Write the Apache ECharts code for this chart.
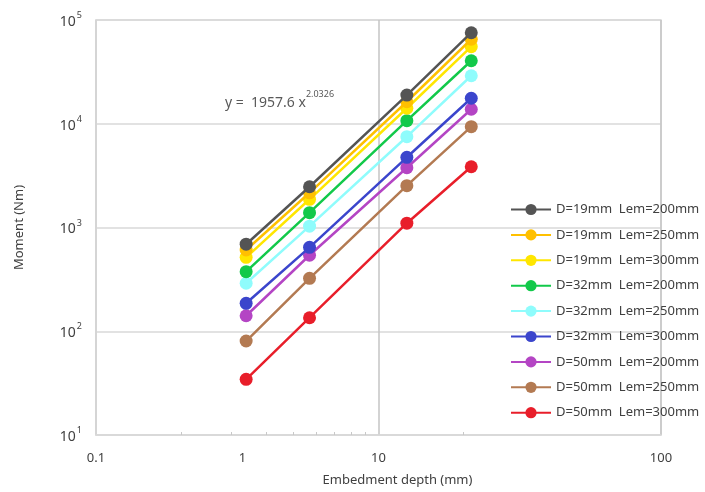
<!DOCTYPE html>
<html>
<head>
<meta charset="utf-8">
<script src="https://cdn.jsdelivr.net/npm/echarts@6/dist/echarts.min.js"></script>
<style>
  html, body { margin: 0; padding: 0; background: #ffffff; }
  #chart { width: 705px; height: 492px; }
</style>
</head>
<body>
<div id="chart"></div>
<script>
// Embedment depth (mm) at which each moment was recorded
const depths = [3.4, 5.7, 12.6, 21.3];

// Moment (Nm) per pile configuration
const d19_lem200 = [690, 2470, 18900, 75400];
const d19_lem250 = [607, 2160, 16300, 65200];
const d19_lem300 = [516, 1870, 14100, 55300];
const d32_lem200 = [375, 1390, 10700, 40500];
const d32_lem250 = [290, 1030, 7500, 29000];
const d32_lem300 = [186, 644, 4750, 17600];
const d50_lem200 = [141, 540, 3770, 13800];
const d50_lem250 = [80.5, 324, 2530, 9370];
const d50_lem300 = [34.4, 135, 1100, 3850];

const seriesNames = [
  'D=19mm  Lem=200mm', 'D=19mm  Lem=250mm', 'D=19mm  Lem=300mm',
  'D=32mm  Lem=200mm', 'D=32mm  Lem=250mm', 'D=32mm  Lem=300mm',
  'D=50mm  Lem=200mm', 'D=50mm  Lem=250mm', 'D=50mm  Lem=300mm'
];
const seriesValues = [
  d19_lem200, d19_lem250, d19_lem300,
  d32_lem200, d32_lem250, d32_lem300,
  d50_lem200, d50_lem250, d50_lem300
];

// x-axis tick labels and the depth values they sit at
const xTickLabels = ['0.1', '1', '10', '100'];
const xTickAt = [1, 3.3, 10, 100];
const xMinorTicks = [2, 3, 4, 5, 6, 7, 8, 9, 20];

// y-axis decade labels (powers of ten)
const yExponents = [1, 2, 3, 4, 5];

const palette = ['#545454', '#ffc000', '#ffe600', '#12c94a', '#8ffcfc',
                 '#3b45cc', '#b445c4', '#b37a52', '#e81e2a'];

const FONT = 'Noto Sans';

const chart = echarts.init(document.getElementById('chart'), null, { renderer: 'canvas' });

const series = seriesNames.map((name, i) => ({
  name: name,
  type: 'line',
  data: depths.map((d, k) => [d, seriesValues[i][k]]),
  symbol: 'circle',
  symbolSize: 13,
  z: 20 - i,
  lineStyle: { width: 2.5, color: palette[i] },
  itemStyle: { color: palette[i] },
  emphasis: { disabled: true },
  animation: false
}));

chart.setOption({
  backgroundColor: '#ffffff',
  animation: false,
  textStyle: { fontFamily: FONT },
  grid: {
    left: 96, right: 44, top: 20, bottom: 57,
    show: true, borderColor: '#d9d9d9', borderWidth: 1.5
  },
  legend: {
    orient: 'vertical',
    left: 505,
    top: 198,
    itemWidth: 40,
    itemHeight: 14,
    itemGap: 12.4,
    textStyle: { color: '#404040', fontSize: 13, fontFamily: FONT },
    data: seriesNames
  },
  xAxis: [{
    // main depth axis: labels and the decade gridline
    type: 'log',
    logBase: 10,
    min: 1,
    max: 100,
    name: 'Embedment depth (mm)',
    nameLocation: 'middle',
    nameGap: 39,
    nameTextStyle: { color: '#404040', fontSize: 13, fontFamily: FONT, padding: [0, 0, 0, 38] },
    axisLine: { show: true, lineStyle: { color: '#d9d9d9', width: 1.5 } },
    axisTick: { show: false },
    axisLabel: {
      color: '#404040', fontSize: 13, margin: 17,
      customValues: xTickAt,
      formatter: function (v) {
        let best = 0;
        for (let i = 1; i < xTickAt.length; i++) {
          if (Math.abs(Math.log10(xTickAt[i]) - Math.log10(v)) <
              Math.abs(Math.log10(xTickAt[best]) - Math.log10(v))) best = i;
        }
        return xTickLabels[best];
      }
    },
    splitLine: { show: true, lineStyle: { color: '#c4c4c4', width: 1.5 } }
  }, {
    // companion axis carrying only the small minor ticks
    type: 'log',
    logBase: 10,
    min: 1,
    max: 100,
    position: 'bottom',
    axisLine: { show: false },
    axisLabel: { show: false },
    splitLine: { show: false },
    axisTick: {
      show: true, inside: true, length: 3,
      customValues: xMinorTicks,
      lineStyle: { color: '#c8c8c8', width: 1 }
    }
  }],
  yAxis: {
    type: 'log',
    logBase: 10,
    min: 10,
    max: 100000,
    name: 'Moment (Nm)',
    nameLocation: 'middle',
    nameGap: 70,
    nameRotate: 90,
    nameTextStyle: { color: '#404040', fontSize: 13, fontFamily: FONT },
    axisLine: { show: true, lineStyle: { color: '#d9d9d9', width: 1.5 } },
    axisTick: { show: false },
    axisLabel: {
      margin: 14,
      formatter: function (v) {
        const e = Math.round(Math.log10(v));
        return yExponents.indexOf(e) >= 0 ? '{b|10}{s|' + e + '}' : '';
      },
      rich: {
        b: { fontSize: 14, color: '#404040', lineHeight: 18, verticalAlign: 'bottom', fontFamily: FONT },
        s: { fontSize: 9, color: '#404040', lineHeight: 10, verticalAlign: 'top', padding: [0, 0, 0, 1], fontFamily: FONT }
      }
    },
    splitLine: { show: true, lineStyle: { color: '#d9d9d9', width: 1.5 } }
  },
  graphic: [{
    type: 'text',
    left: 225,
    top: 90,
    z: 50,
    style: {
      text: '{a|y =  1957.6 x}{s|2.0326}',
      rich: {
        a: { fontSize: 14, fill: '#595959', lineHeight: 20, verticalAlign: 'bottom', fontFamily: FONT },
        s: { fontSize: 9, fill: '#595959', lineHeight: 10, verticalAlign: 'top', fontFamily: FONT }
      }
    }
  }],
  series: series
});
</script>
</body>
</html>
